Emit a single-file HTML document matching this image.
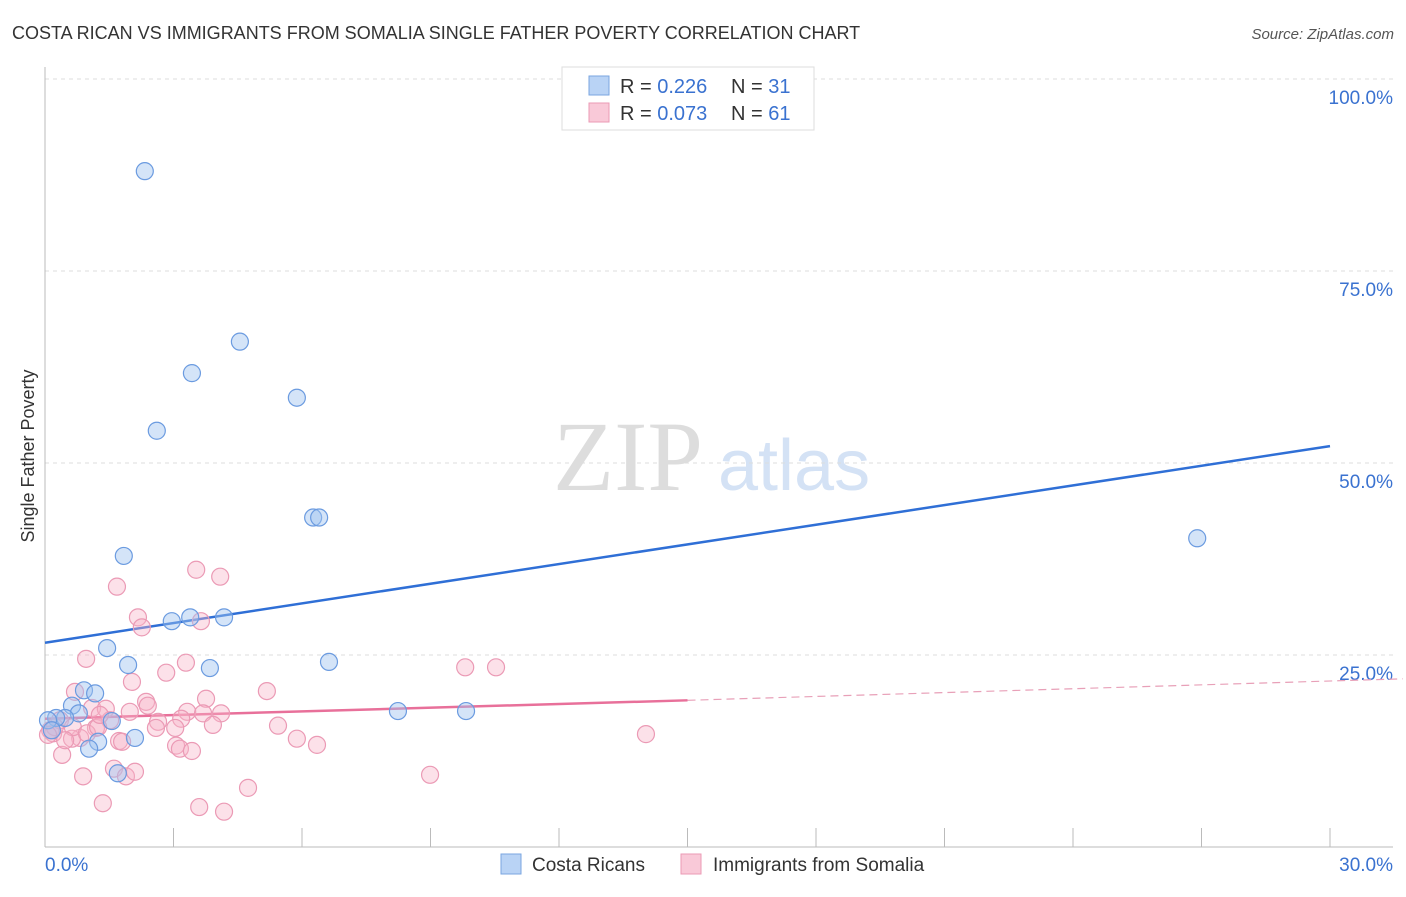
<!DOCTYPE html>
<html><head><meta charset="utf-8"><style>
body{margin:0;background:#fff;font-family:"Liberation Sans",sans-serif;}
svg text{font-family:"Liberation Sans",sans-serif;}
svg text.serif{font-family:"Liberation Serif",serif;}
</style></head><body>
<svg id="chart" width="1406" height="892" xmlns="http://www.w3.org/2000/svg">
<text x="12" y="39" font-size="18" fill="#333">COSTA RICAN VS IMMIGRANTS FROM SOMALIA SINGLE FATHER POVERTY CORRELATION CHART</text>
<text x="1394" y="39" font-size="15" fill="#555" font-style="italic" text-anchor="end">Source: ZipAtlas.com</text>
<g>
<text class="serif" x="553" y="490" font-size="100" fill="#ddd">ZIP</text>
<text x="718" y="490" font-size="72" fill="#d4e2f5">atlas</text>
</g>
<text transform="translate(34,456) rotate(-90)" font-size="18" fill="#333" text-anchor="middle">Single Father Poverty</text>
<g id="grid"></g><g id="axes"></g><g id="lines"></g><g id="pts"></g>
<g>
<rect x="562" y="67" width="252" height="63" fill="#fff" stroke="#ddd"/>
<rect x="589" y="76" width="20" height="19" fill="#b9d3f5" stroke="#7aa6e0"/>
<rect x="589" y="103" width="20" height="19" fill="#f9c9d8" stroke="#eb9ab5"/>
<text x="620" y="93" font-size="20" fill="#333">R = <tspan fill="#3a72d0">0.226</tspan></text>
<text x="731" y="93" font-size="20" fill="#333">N = <tspan fill="#3a72d0">31</tspan></text>
<text x="620" y="120" font-size="20" fill="#333">R = <tspan fill="#3a72d0">0.073</tspan></text>
<text x="731" y="120" font-size="20" fill="#333">N = <tspan fill="#3a72d0">61</tspan></text>
</g>
<g>
<rect x="501" y="854" width="20" height="20" fill="#b9d3f5" stroke="#7aa6e0"/>
<text x="532" y="871" font-size="19" fill="#333">Costa Ricans</text>
<rect x="681" y="854" width="20" height="20" fill="#f9c9d8" stroke="#eb9ab5"/>
<text x="713" y="871" font-size="19" fill="#333">Immigrants from Somalia</text>
</g>
</svg>
<script>
const yTicks=[100,75,50,25];
const yTickLabels=["100.0%","75.0%","50.0%","25.0%"];
const xTickVals=[0,3,6,9,12,15,18,21,24,27,30];
const xEndLabels=["0.0%","30.0%"];
const blueX=[2.33,4.55,3.43,5.88,2.61,6.26,6.40,1.84,26.9,2.96,3.39,4.18,1.45,1.94,3.85,6.63,0.91,1.17,8.24,9.83,0.63,0.79,0.47,0.26,0.07,1.56,2.10,1.24,1.03,1.70,0.16];
const blueY=[88.0,65.8,61.7,58.5,54.2,42.9,42.9,37.9,40.2,29.4,29.9,29.9,25.9,23.7,23.3,24.1,20.4,20.0,17.7,17.7,18.4,17.4,16.8,16.8,16.5,16.4,14.2,13.7,12.8,9.6,15.2];
const pinkX=[3.53,4.09,1.68,2.17,2.26,3.64,0.96,3.29,2.83,2.03,5.18,3.76,2.36,2.40,0.70,1.10,1.42,3.32,3.69,4.11,3.18,2.64,2.59,3.04,3.92,5.44,1.52,1.19,5.88,6.35,1.73,1.80,3.06,3.15,3.43,0.82,0.63,0.40,0.12,0.19,0.89,1.61,1.89,2.10,1.35,3.60,4.18,4.74,0.35,0.65,0.98,1.24,0.23,9.81,10.53,8.99,14.03,0.07,0.47,1.28,1.98];
const pinkY=[36.1,35.2,33.9,29.9,28.6,29.4,24.5,24.0,22.7,21.5,20.3,19.3,18.9,18.4,20.2,18.1,18.0,17.6,17.4,17.4,16.7,16.3,15.5,15.5,15.9,15.8,16.5,15.5,14.1,13.3,13.8,13.7,13.2,12.8,12.5,14.2,14.1,12.0,15.2,14.8,9.2,10.2,9.2,9.8,5.7,5.2,4.6,7.7,16.5,15.6,14.8,15.6,15.6,23.4,23.4,9.4,14.7,14.6,13.9,17.2,17.6];
const blueTrend=[[0,26.6],[30,52.2]];
const pinkTrend=[[0,16.7],[15,19.1]];
const pinkTrendDash=[[15,19.1],[31.7,21.9]];

const NS="http://www.w3.org/2000/svg";
const sx=v=>45+v/30*1285, sy=v=>847-v*7.68;
function mk(tag,attrs,parent){const e=document.createElementNS(NS,tag);for(const k in attrs)e.setAttribute(k,attrs[k]);document.getElementById(parent).appendChild(e);return e;}
yTicks.forEach((t,i)=>{
 const g=mk('line',{x1:45,x2:1393,y1:sy(t),y2:sy(t),stroke:'#ddd','stroke-dasharray':'4,4'},'grid');
 
 
 const l=mk('text',{x:1393,y:sy(t)+25,'font-size':19,fill:'#3a72d0','text-anchor':'end'},'grid');
 l.textContent=yTickLabels[i];
 
 
});
const ya=mk('line',{x1:45,x2:45,y1:67,y2:847,stroke:'#bbb'},'axes');


const xa=mk('line',{x1:45,x2:1393,y1:847,y2:847,stroke:'#bbb'},'axes');


xTickVals.forEach(t=>{
 const k=mk('line',{x1:sx(t),x2:sx(t),y1:828,y2:847,stroke:'#bbb'},'axes');
 
 
});
[[0,'start',45],[30,'end',1393]].forEach((d,i)=>{
 const l=mk('text',{x:d[2],y:871,'font-size':19,fill:'#3a72d0','text-anchor':d[1]},'axes');
 l.textContent=xEndLabels[i];
 
 
});
function line(p,attrs,name){const e=mk('line',Object.assign({x1:sx(p[0][0]),y1:sy(p[0][1]),x2:sx(p[1][0]),y2:sy(p[1][1])},attrs),'lines');
 
 }
pinkX.forEach((x,i)=>{
 const c=mk('circle',{cx:sx(x),cy:sy(pinkY[i]),r:8.5,fill:'rgba(248,180,200,0.4)',stroke:'#eb9ab5','stroke-width':1.2},'pts');
 
 
});
blueX.forEach((x,i)=>{
 const c=mk('circle',{cx:sx(x),cy:sy(blueY[i]),r:8.5,fill:'rgba(160,195,240,0.45)',stroke:'#6b9be0','stroke-width':1.2},'pts');
 
 
});
line(blueTrend,{stroke:'#2f6fd6','stroke-width':2.5},'costa-rican-trendline');
line(pinkTrend,{stroke:'#e8709a','stroke-width':2.5},'somalia-trendline');
line(pinkTrendDash,{stroke:'#e8a0b8','stroke-width':1.2,'stroke-dasharray':'8,5'},'somalia-trendline-extension');
</script>
</body></html>
